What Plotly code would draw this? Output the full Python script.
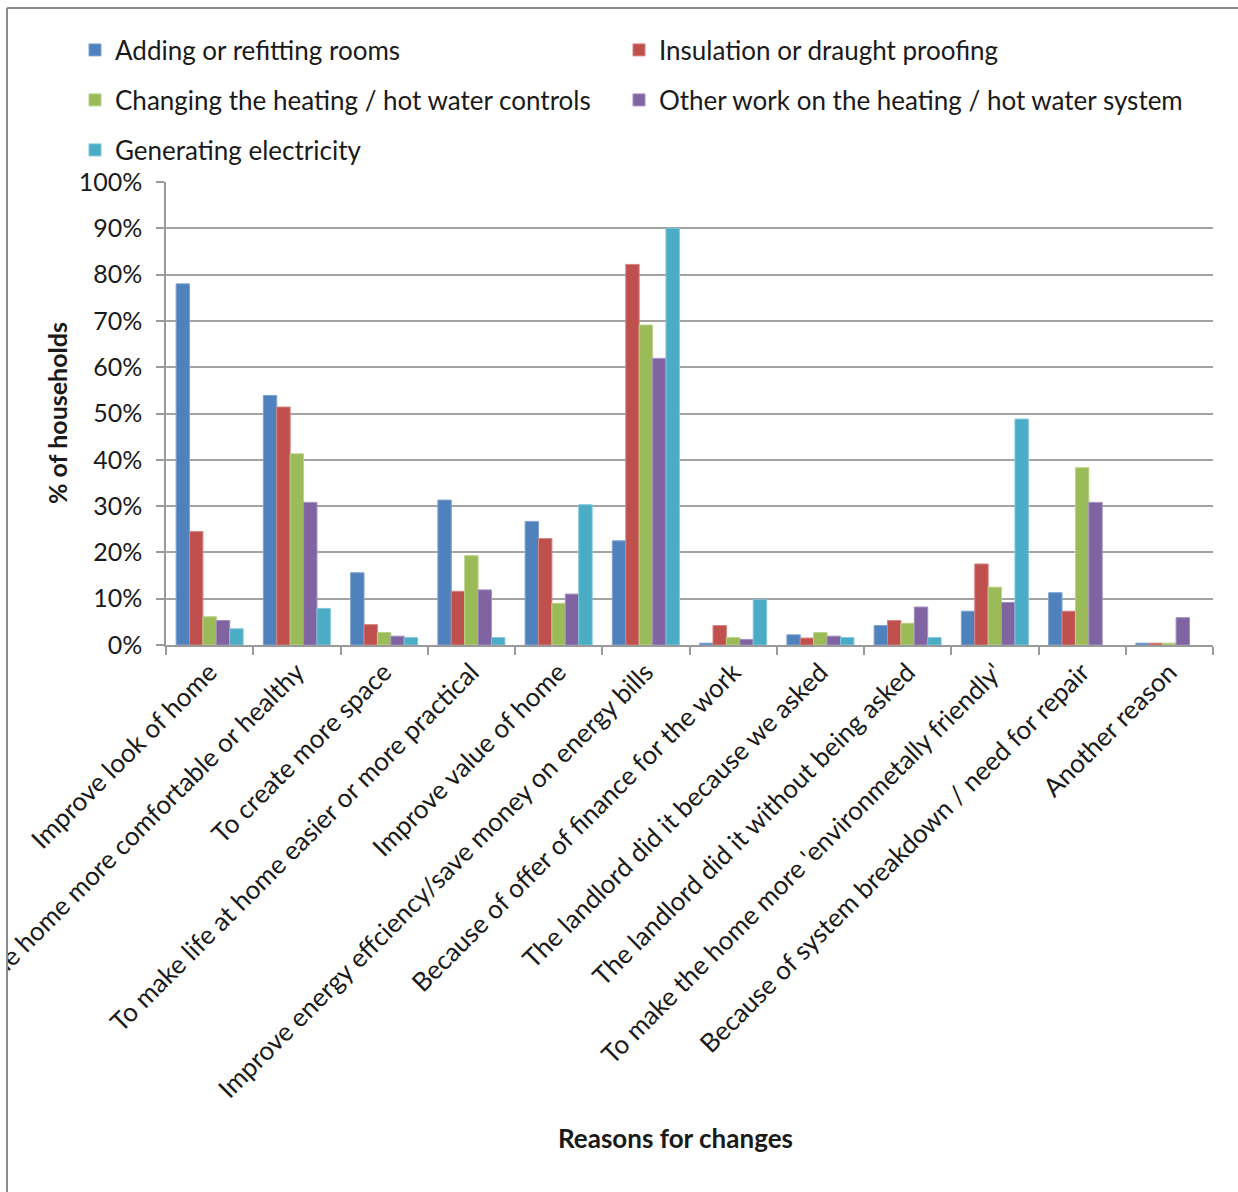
import plotly.graph_objects as go

# Survey results: share of households giving each reason, by type of work
categories = [
    "Improve look of home",
    "To make the home more comfortable or healthy",
    "To create more space",
    "To make life at home easier or more practical",
    "Improve value of home",
    "Improve energy effciency/save money on energy bills",
    "Because of offer of finance for the work",
    "The landlord did it because we asked",
    "The landlord did it without being asked",
    "To make the home more 'environmetally friendly'",
    "Because of system breakdown / need for repair",
    "Another reason",
]

adding_rooms = [78.0, 53.9, 15.6, 31.3, 26.7, 22.5, 0.4, 2.2, 4.2, 7.3, 11.3, 0.4]
insulation = [24.5, 51.4, 4.4, 11.6, 23.0, 82.2, 4.2, 1.5, 5.3, 17.5, 7.3, 0.4]
heating_controls = [6.1, 41.3, 2.7, 19.3, 9.0, 69.1, 1.6, 2.7, 4.7, 12.5, 38.3, 0.4]
other_heating = [5.3, 30.8, 1.9, 11.9, 11.0, 61.9, 1.2, 1.9, 8.2, 9.2, 30.8, 5.9]
generating = [3.5, 7.9, 1.6, 1.6, 30.3, 90.0, 9.8, 1.6, 1.6, 48.8, None, None]

series_names = [
    "Adding or refitting rooms",
    "Insulation or draught proofing",
    "Changing the heating / hot water controls",
    "Other work on the heating / hot water system",
    "Generating electricity",
]
series_values = [adding_rooms, insulation, heating_controls, other_heating, generating]
colors = ["#4F81BD", "#C0504D", "#9BBB59", "#8064A2", "#4BACC6"]
edges = ["#7EA3D0", "#D6837F", "#BBD28A", "#A38FC0", "#80C6D9"]

W, H = 1238, 1192
L, R, T, B = 166, 1213, 182, 645  # plot-area edges in pixels


def px_x(px):
    return (px - L) / (R - L)


def px_y(py):
    return (B - py) / (B - T)


FONT = "Lato"
TXT = "#1a1a1a"

# legend entries laid out as a two-column grid: (left px, centre-y px)
legend_slots = [(75, 50), (619, 50), (75, 100), (619, 100), (75, 150)]
legend_ids = ["legend", "legend2", "legend3", "legend4", "legend5"]

fig = go.Figure()
for name, vals, color, edge, lg in zip(series_names, series_values, colors, edges, legend_ids):
    fig.add_trace(go.Bar(
        name=name, x=categories, y=vals, showlegend=True,
        marker=dict(color=color, line=dict(color=edge, width=1)),
        legend=lg,
    ))

legends = {}
for lg, (lx, ly) in zip(legend_ids, legend_slots):
    legends[lg] = dict(
        orientation="h", xref="paper", yref="paper", visible=True,
        x=px_x(lx), y=px_y(ly), xanchor="left", yanchor="middle",
        font=dict(family=FONT, size=26, color=TXT),
        itemwidth=30, bgcolor="rgba(0,0,0,0)", borderwidth=0,
    )

fig.update_layout(
    width=W, height=H, showlegend=True,
    margin=dict(l=L, r=W - R, t=T, b=H - B, autoexpand=False),
    paper_bgcolor="white", plot_bgcolor="white",
    barmode="group", bargap=0.232, bargroupgap=0,
    font=dict(family=FONT, size=25, color=TXT),
    **legends,
    xaxis=dict(
        tickangle=-45, tickson="boundaries", ticks="outside", ticklen=8,
        tickcolor="#9a9a9a", tickwidth=1.5, automargin=False,
        showline=True, linecolor="#9a9a9a", linewidth=1.5,
        showgrid=False, tickfont=dict(family=FONT, size=26, color=TXT),
    ),
    yaxis=dict(
        range=[0, 100], dtick=10, ticksuffix="%", automargin=False,
        ticks="outside", ticklen=8, tickcolor="#9a9a9a", tickwidth=1.5,
        ticklabelstandoff=9,
        showline=True, linecolor="#9a9a9a", linewidth=1.5,
        showgrid=True, gridcolor="#a3a3a3", gridwidth=1.5,
        zeroline=False, tickfont=dict(family=FONT, size=25, color=TXT),
    ),
    annotations=[
        dict(text="<b>Reasons for changes</b>", xref="paper", yref="paper",
             x=px_x(675), y=px_y(1138), showarrow=False,
             xanchor="center", yanchor="middle",
             font=dict(family=FONT, size=26, color=TXT)),
        dict(text="<b>% of households</b>", xref="paper", yref="paper",
             x=px_x(57), y=px_y(413), showarrow=False, textangle=-90,
             xanchor="center", yanchor="middle",
             font=dict(family=FONT, size=25, color=TXT)),
    ],
    shapes=[
        # chart-area frame: trims labels running past the left edge
        dict(type="rect", xref="paper", yref="paper", layer="above",
             x0=px_x(-5), x1=px_x(7), y0=px_y(H + 5), y1=px_y(-5),
             fillcolor="white", line=dict(width=0)),
        dict(type="line", xref="paper", yref="paper", layer="above",
             x0=px_x(7), x1=px_x(W + 5), y0=px_y(8), y1=px_y(8),
             line=dict(color="#8c8c8c", width=2)),
        dict(type="line", xref="paper", yref="paper", layer="above",
             x0=px_x(7), x1=px_x(7), y0=px_y(8), y1=px_y(H + 5),
             line=dict(color="#8c8c8c", width=2)),
    ],
)

fig.write_html("out.html")
